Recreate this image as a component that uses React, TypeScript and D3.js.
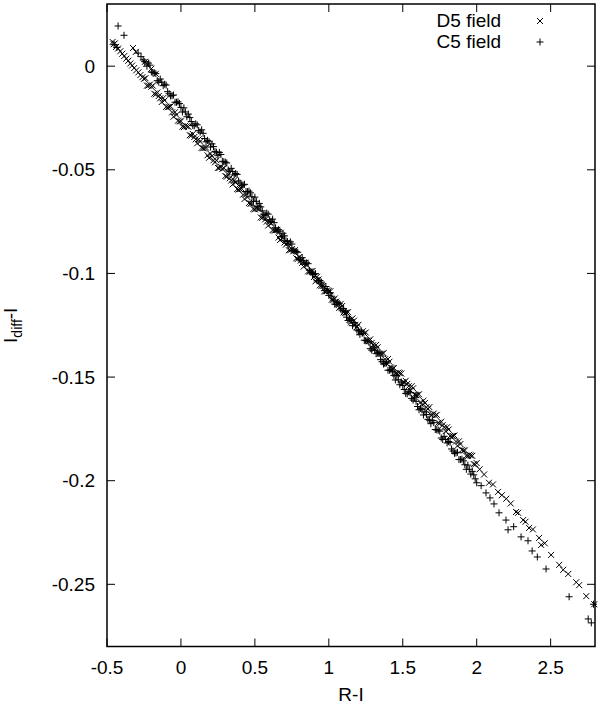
import React from 'react';
import * as d3 from 'd3';

// R-I vs I_diff-I, two fields
const d5Field: [number, number][] = [
  [-0.462, 0.0117], [-0.455, 0.0106], [-0.447, 0.0110], [-0.438, 0.0093], [-0.425, 0.0085],
  [-0.41, 0.0072], [-0.397, 0.0060], [-0.383, 0.0049], [-0.37, 0.0036], [-0.356, 0.0026],
  [-0.342, 0.0013], [-0.33, 0.0003], [-0.316, -0.0009], [-0.302, -0.0020], [-0.288, -0.0030],
  [-0.274, -0.0043], [-0.26, -0.0053], [-0.25, -0.0061],
  [-0.324, 0.0088], [-0.305, 0.0069], [-0.243, 0.0021], [-0.232, 0.0012], [-0.2, -0.0012], [-0.17, -0.0037],
  [-0.24, -0.0058], [-0.22, -0.0094], [-0.2, -0.0099], [-0.18, -0.0133], [-0.16, -0.0127],
  [-0.14, -0.0155], [-0.12, -0.0154], [-0.1, -0.0196], [-0.08, -0.0196], [-0.06, -0.0223],
  [-0.04, -0.0222], [-0.02, -0.0263], [0.0, -0.0266], [0.02, -0.0294], [0.04, -0.0290],
  [0.06, -0.0333], [0.08, -0.0327], [0.1, -0.0353], [0.12, -0.0353], [0.14, -0.0394],
  [0.16, -0.0395], [0.18, -0.0430], [0.2, -0.0423], [0.22, -0.0454], [0.24, -0.0454],
  [0.26, -0.0491], [0.28, -0.0496], [0.3, -0.0530], [0.32, -0.0524], [0.34, -0.0552],
  [0.36, -0.0551], [0.38, -0.0593], [0.4, -0.0593], [0.42, -0.0620], [0.44, -0.0619],
  [0.46, -0.0660], [0.48, -0.0663], [0.5, -0.0691], [0.52, -0.0687], [0.54, -0.0730],
  [0.56, -0.0724], [0.58, -0.0750], [0.6, -0.0750], [0.62, -0.0791], [0.64, -0.0792],
  [0.66, -0.0827], [0.68, -0.0820], [0.7, -0.0851], [0.72, -0.0851], [0.74, -0.0888],
  [0.76, -0.0893], [0.78, -0.0927], [0.8, -0.0921], [0.82, -0.0949], [0.84, -0.0948],
  [0.86, -0.0990], [0.88, -0.0990], [0.9, -0.1017], [0.92, -0.1016], [0.94, -0.1057],
  [0.96, -0.1060], [0.98, -0.1087], [1.0, -0.1084], [1.02, -0.1127], [1.04, -0.1121],
  [1.06, -0.1147], [1.08, -0.1147], [1.1, -0.1188], [1.12, -0.1189], [1.14, -0.1224],
  [1.16, -0.1217], [1.18, -0.1248], [1.2, -0.1248], [1.22, -0.1285], [1.24, -0.1289],
  [1.26, -0.1324], [1.28, -0.1318], [1.3, -0.1346], [1.32, -0.1345], [1.34, -0.1387],
  [1.36, -0.1387], [1.38, -0.1414], [1.4, -0.1413], [1.42, -0.1454], [1.44, -0.1457],
  [1.46, -0.1484], [1.48, -0.1481], [1.5, -0.1524], [1.52, -0.1518], [1.54, -0.1544],
  [1.56, -0.1544], [1.58, -0.1585], [1.6, -0.1586], [1.62, -0.1621], [1.64, -0.1614],
  [1.66, -0.1645], [1.68, -0.1645], [1.7, -0.1682], [1.72, -0.1686], [1.74, -0.1721],
  [1.76, -0.1715], [1.78, -0.1743], [1.8, -0.1742], [1.82, -0.1784], [1.84, -0.1784],
  [1.86, -0.1811], [1.88, -0.1810], [1.9, -0.1851], [1.92, -0.1854], [1.94, -0.1881],
  [1.96, -0.1878], [1.98, -0.1920], [2.0, -0.1915],
  [-0.23, -0.0094], [-0.21, -0.0089], [-0.19, -0.0094], [-0.17, -0.0136], [-0.15, -0.0144],
  [-0.13, -0.0173], [-0.11, -0.0165], [-0.09, -0.0198], [-0.07, -0.0194], [-0.05, -0.0244],
  [-0.03, -0.0235], [-0.01, -0.0266], [0.01, -0.0292], [0.03, -0.0287], [0.05, -0.0292],
  [0.07, -0.0335], [0.09, -0.0342], [0.11, -0.0372], [0.13, -0.0364], [0.15, -0.0396],
  [0.17, -0.0393], [0.19, -0.0442], [0.21, -0.0434], [0.23, -0.0464], [0.25, -0.0491],
  [0.27, -0.0485], [0.29, -0.0491], [0.31, -0.0533], [0.33, -0.0541], [0.35, -0.0570],
  [0.37, -0.0562], [0.39, -0.0595], [0.41, -0.0591], [0.43, -0.0641], [0.45, -0.0632],
  [0.47, -0.0663], [0.49, -0.0689], [0.51, -0.0684], [0.53, -0.0689], [0.55, -0.0732],
  [0.57, -0.0739], [0.59, -0.0769], [0.61, -0.0760], [0.63, -0.0793], [0.65, -0.0790],
  [0.67, -0.0839], [0.69, -0.0831], [0.71, -0.0861], [0.73, -0.0888], [0.75, -0.0882],
  [0.77, -0.0888], [0.79, -0.0930], [0.81, -0.0938], [0.83, -0.0967], [0.85, -0.0959],
  [0.87, -0.0991], [0.89, -0.0988], [0.91, -0.1038], [0.93, -0.1029], [0.95, -0.1060],
  [0.97, -0.1086], [0.99, -0.1081], [1.01, -0.1086], [1.03, -0.1129], [1.05, -0.1136],
  [1.07, -0.1166], [1.09, -0.1157], [1.11, -0.1190], [1.13, -0.1187], [1.15, -0.1236],
  [1.17, -0.1228], [1.19, -0.1258], [1.21, -0.1285], [1.23, -0.1279], [1.25, -0.1285],
  [1.27, -0.1327], [1.29, -0.1335], [1.31, -0.1364], [1.33, -0.1356], [1.35, -0.1388],
  [1.37, -0.1385], [1.39, -0.1435], [1.41, -0.1426], [1.43, -0.1457], [1.45, -0.1483],
  [1.47, -0.1478], [1.49, -0.1483], [1.51, -0.1526], [1.53, -0.1533], [1.55, -0.1563],
  [1.57, -0.1554], [1.59, -0.1587], [1.61, -0.1583], [1.63, -0.1633], [1.65, -0.1625],
  [1.67, -0.1655], [1.69, -0.1682], [1.71, -0.1676], [1.73, -0.1682], [1.75, -0.1724],
  [1.77, -0.1732], [1.79, -0.1761], [1.81, -0.1753], [1.83, -0.1785], [1.85, -0.1782],
  [1.87, -0.1832], [1.89, -0.1823], [1.91, -0.1854], [1.93, -0.1880], [1.95, -0.1875],
  [1.97, -0.1880], [1.99, -0.1922],
  [2.02, -0.1945], [2.05, -0.1970], [2.083, -0.2010], [2.11, -0.2018], [2.144, -0.2054],
  [2.17, -0.2070], [2.2, -0.2087], [2.23, -0.2110], [2.266, -0.2151], [2.28, -0.2155],
  [2.314, -0.2190], [2.33, -0.2198], [2.354, -0.2228], [2.38, -0.2235], [2.422, -0.2276],
  [2.436, -0.2310], [2.46, -0.2302], [2.503, -0.2358], [2.558, -0.2406], [2.585, -0.2430],
  [2.619, -0.2450], [2.673, -0.2490], [2.693, -0.2504], [2.741, -0.2557], [2.795, -0.2596],
];

const c5Field: [number, number][] = [
  [-0.425, 0.0194], [-0.385, 0.0149], [-0.452, 0.0104], [-0.433, 0.0090],
  [-0.29, 0.0063], [-0.27, 0.0046], [-0.255, 0.0030], [-0.245, 0.0022],
  [-0.23, 0.0000], [-0.21, 0.0005], [-0.19, -0.0030], [-0.17, -0.0036], [-0.15, -0.0077],
  [-0.13, -0.0077], [-0.11, -0.0087], [-0.09, -0.0123], [-0.07, -0.0144], [-0.05, -0.0139],
  [-0.03, -0.0174], [-0.01, -0.0180], [0.01, -0.0221], [0.03, -0.0221], [0.05, -0.0231],
  [0.07, -0.0267], [0.09, -0.0288], [0.11, -0.0283], [0.13, -0.0318], [0.15, -0.0324],
  [0.17, -0.0365], [0.19, -0.0365], [0.21, -0.0375], [0.23, -0.0411], [0.25, -0.0432],
  [0.27, -0.0426], [0.29, -0.0461], [0.31, -0.0467], [0.33, -0.0508], [0.35, -0.0508],
  [0.37, -0.0518], [0.39, -0.0554], [0.41, -0.0575], [0.43, -0.0570], [0.45, -0.0605],
  [0.47, -0.0611], [0.49, -0.0652], [0.51, -0.0652], [0.53, -0.0662], [0.55, -0.0698],
  [0.57, -0.0719], [0.59, -0.0714], [0.61, -0.0749], [0.63, -0.0755], [0.65, -0.0796],
  [0.67, -0.0796], [0.69, -0.0806], [0.71, -0.0842], [0.73, -0.0863], [0.75, -0.0858],
  [0.77, -0.0892], [0.79, -0.0898], [0.81, -0.0939], [0.83, -0.0939], [0.85, -0.0949],
  [0.87, -0.0985], [0.89, -0.1006], [0.91, -0.1001], [0.93, -0.1036], [0.95, -0.1042],
  [0.97, -0.1083], [0.99, -0.1083], [1.01, -0.1093], [1.03, -0.1129], [1.05, -0.1150],
  [1.07, -0.1145], [1.09, -0.1180], [1.11, -0.1186], [1.13, -0.1227], [1.15, -0.1227],
  [1.17, -0.1237], [1.19, -0.1273], [1.21, -0.1294], [1.23, -0.1289], [1.25, -0.1324],
  [1.27, -0.1329], [1.29, -0.1370], [1.31, -0.1370], [1.33, -0.1380], [1.35, -0.1416],
  [1.37, -0.1437], [1.39, -0.1432], [1.41, -0.1467], [1.43, -0.1473], [1.45, -0.1514],
  [1.47, -0.1514], [1.49, -0.1524], [1.51, -0.1560], [1.53, -0.1581], [1.55, -0.1576],
  [1.57, -0.1611], [1.59, -0.1617], [1.61, -0.1658], [1.63, -0.1658], [1.65, -0.1668],
  [1.67, -0.1704], [1.69, -0.1725], [1.71, -0.1720], [1.73, -0.1755], [1.75, -0.1761],
  [1.77, -0.1801], [1.79, -0.1801], [1.81, -0.1811], [1.83, -0.1847], [1.85, -0.1868],
  [1.87, -0.1863], [1.89, -0.1898], [1.91, -0.1904], [1.93, -0.1945], [1.95, -0.1945],
  [1.97, -0.1955], [1.99, -0.1991],
  [-0.22, 0.0015], [-0.2, -0.0028], [-0.18, -0.0032], [-0.16, -0.0070], [-0.14, -0.0062],
  [-0.12, -0.0094], [-0.1, -0.0091], [-0.08, -0.0133], [-0.06, -0.0142], [-0.04, -0.0174],
  [-0.02, -0.0172], [0.0, -0.0199], [0.02, -0.0201], [0.04, -0.0244], [0.06, -0.0248],
  [0.08, -0.0286], [0.1, -0.0278], [0.12, -0.0310], [0.14, -0.0307], [0.16, -0.0349],
  [0.18, -0.0358], [0.2, -0.0390], [0.22, -0.0388], [0.24, -0.0415], [0.26, -0.0416],
  [0.28, -0.0459], [0.3, -0.0463], [0.32, -0.0501], [0.34, -0.0493], [0.36, -0.0525],
  [0.38, -0.0522], [0.4, -0.0564], [0.42, -0.0573], [0.44, -0.0605], [0.46, -0.0603],
  [0.48, -0.0630], [0.5, -0.0632], [0.52, -0.0675], [0.54, -0.0679], [0.56, -0.0717],
  [0.58, -0.0709], [0.6, -0.0741], [0.62, -0.0738], [0.64, -0.0780], [0.66, -0.0789],
  [0.68, -0.0821], [0.7, -0.0819], [0.72, -0.0846], [0.74, -0.0848], [0.76, -0.0890],
  [0.78, -0.0894], [0.8, -0.0932], [0.82, -0.0924], [0.84, -0.0956], [0.86, -0.0953],
  [0.88, -0.0995], [0.9, -0.1004], [0.92, -0.1036], [0.94, -0.1034], [0.96, -0.1061],
  [0.98, -0.1063], [1.0, -0.1106], [1.02, -0.1110], [1.04, -0.1148], [1.06, -0.1140],
  [1.08, -0.1172], [1.1, -0.1169], [1.12, -0.1211], [1.14, -0.1220], [1.16, -0.1252],
  [1.18, -0.1250], [1.2, -0.1277], [1.22, -0.1279], [1.24, -0.1322], [1.26, -0.1325],
  [1.28, -0.1363], [1.3, -0.1355], [1.32, -0.1387], [1.34, -0.1384], [1.36, -0.1426],
  [1.38, -0.1435], [1.4, -0.1467], [1.42, -0.1465], [1.44, -0.1492], [1.46, -0.1494],
  [1.48, -0.1537], [1.5, -0.1541], [1.52, -0.1579], [1.54, -0.1571], [1.56, -0.1603],
  [1.58, -0.1600], [1.6, -0.1642], [1.62, -0.1651], [1.64, -0.1683], [1.66, -0.1681],
  [1.68, -0.1708], [1.7, -0.1710], [1.72, -0.1753], [1.74, -0.1756], [1.76, -0.1794],
  [1.78, -0.1786], [1.8, -0.1818], [1.82, -0.1815], [1.84, -0.1857], [1.86, -0.1866],
  [1.88, -0.1898], [1.9, -0.1896], [1.92, -0.1923], [1.94, -0.1925], [1.96, -0.1968],
  [1.98, -0.1972], [2.0, -0.2010],
  [2.03, -0.2024], [2.063, -0.2059], [2.09, -0.2083], [2.117, -0.2112], [2.151, -0.2155],
  [2.198, -0.2190], [2.212, -0.2237], [2.25, -0.2222], [2.3, -0.2271], [2.347, -0.2290],
  [2.375, -0.2339], [2.41, -0.2368], [2.469, -0.2426], [2.625, -0.2560], [2.754, -0.2667],
  [2.775, -0.2686], [2.79, -0.2596],
];

const xTicks = [-0.5, 0, 0.5, 1, 1.5, 2, 2.5];
const yTicks = [0, -0.05, -0.1, -0.15, -0.2, -0.25];
const legendLabels = ['D5 field', 'C5 field'];

const crossPath = 'M-3,-3L3,3M-3,3L3,-3';
const plusPath = 'M-3.5,0H3.5M0,-3.5V3.5';

const App = () => {
  const width = 600;
  const height = 704;
  const left = 107, right = 595, top = 4, bottom = 646.5;
  const font = '"Liberation Sans", Arial, Helvetica, sans-serif';

  const x = d3.scaleLinear().domain([-0.5, 2.8]).range([left, right]);
  const y = d3.scaleLinear().domain([-0.28, 0.03]).range([bottom, top]);
  const tickLen = 8;

  return (
    <svg width={width} height={height} style={{ position: 'absolute', left: 0, top: 0, background: '#fff' }}
      fontFamily={font}>
      <rect x={0} y={0} width={width} height={height} fill="#fff" />

      {/* points */}
      <g stroke="#000" strokeWidth={1} fill="none">
        {d5Field.map((d, i) => (
          <path key={'d' + i} d={crossPath} transform={`translate(${x(d[0])},${y(d[1])})`} />
        ))}
        {c5Field.map((d, i) => (
          <path key={'c' + i} d={plusPath} transform={`translate(${x(d[0])},${y(d[1])})`} />
        ))}
      </g>

      {/* ticks, mirrored */}
      <g stroke="#000" strokeWidth={1}>
        {xTicks.map((t, i) => (
          <g key={i}>
            <line x1={x(t)} x2={x(t)} y1={bottom} y2={bottom - tickLen} />
            <line x1={x(t)} x2={x(t)} y1={top} y2={top + tickLen} />
          </g>
        ))}
        {yTicks.map((t, i) => (
          <g key={i}>
            <line x1={left} x2={left + tickLen} y1={y(t)} y2={y(t)} />
            <line x1={right} x2={right - tickLen} y1={y(t)} y2={y(t)} />
          </g>
        ))}
      </g>

      <rect x={left} y={top} width={right - left} height={bottom - top} fill="none" stroke="#000" strokeWidth={1.5} />

      {/* tick labels */}
      <g fontSize={19} fill="#000">
        {xTicks.map((t, i) => (
          <text key={i} x={x(t)} y={674} textAnchor="middle">{String(t)}</text>
        ))}
        {yTicks.map((t, i) => (
          <text key={i} x={95} y={y(t)} dy="0.35em" textAnchor="end">{String(t)}</text>
        ))}
      </g>

      {/* axis titles */}
      <text x={(left + right) / 2} y={701} textAnchor="middle" fontSize={19}>R-I</text>
      <text transform={`translate(17,${(top + bottom) / 2}) rotate(-90)`} textAnchor="middle" fontSize={19}>
        I<tspan dy={5} fontSize={14}>diff</tspan><tspan dy={-5}>-I</tspan>
      </text>

      {/* legend */}
      <g fontSize={19}>
        {legendLabels.map((l, i) => (
          <g key={l}>
            <text x={501} y={27 + i * 21} textAnchor="end">{l}</text>
            <path d={i === 0 ? crossPath : plusPath} transform={`translate(540,${21 + i * 21})`}
              stroke="#000" strokeWidth={1} fill="none" />
          </g>
        ))}
      </g>
    </svg>
  );
};

export default App;
